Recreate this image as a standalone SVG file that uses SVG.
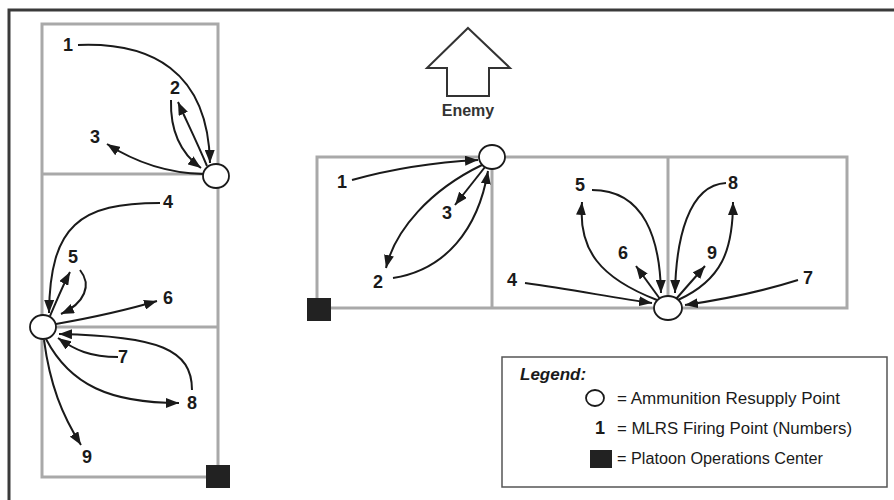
<svg xmlns="http://www.w3.org/2000/svg" width="894" height="500" viewBox="0 0 894 500">
<defs>
<marker id="ah" markerUnits="userSpaceOnUse" markerWidth="13" markerHeight="10" refX="13" refY="5" orient="auto">
<path d="M0,0 L13,5 L0,10 z" fill="#1a1a1a"/>
</marker>
</defs>
<style>
.area{fill:none;stroke:#a9a9a9;stroke-width:3}
.frame{fill:none;stroke:#3a3a3a;stroke-width:3}
.arp{fill:#fff;stroke:#1a1a1a;stroke-width:1.8}
.poc{fill:#222}
.num{font-family:"Liberation Sans",Arial,sans-serif;font-weight:bold;font-size:18px;fill:#1a1a1a;text-anchor:middle}
.con path{fill:none;stroke:#1a1a1a;stroke-width:2;marker-end:url(#ah)}
.leg{font-family:"Liberation Sans",Arial,sans-serif;font-size:16px;fill:#1a1a1a}
</style>
<rect width="894" height="500" fill="#fff"/>
<g id="frame">
<path class="frame" d="M9,500 L9,10 L894,10"/>
</g>
<g id="areas">
<rect class="area" x="42" y="24" width="176" height="453"/>
<line class="area" x1="42" y1="174" x2="218" y2="174"/>
<line class="area" x1="42" y1="327" x2="218" y2="327"/>
<rect class="area" x="317" y="157" width="530" height="151"/>
<line class="area" x1="492" y1="157" x2="492" y2="308"/>
<line class="area" x1="668" y1="157" x2="668" y2="308"/>
</g>
<g id="enemy">
<polygon points="468,28 510,68 489,68 489,96 447,96 447,68 427,68" fill="#fff" stroke="#333" stroke-width="2"/>
<text x="468" y="116" text-anchor="middle" font-family="Liberation Sans,Arial,sans-serif" font-weight="bold" font-size="16" fill="#333">Enemy</text>
</g>
<g id="connectors" class="con">
<path d="M78,45 C150,42 208,70 210,163"/>
<path d="M171,100 C170,135 183,155 201,168"/>
<path d="M207,166 C196,140 186,120 178,102"/>
<path d="M203,174 C165,173 135,162 107,144"/>
<path d="M160,203 C80,203 50,225 49,313"/>
<path d="M50,316 C57,300 63,285 70,272"/>
<path d="M80,270 C92,285 85,303 61,314"/>
<path d="M56,324 C90,318 120,312 157,301"/>
<path d="M118,357 C90,357 75,350 58,338"/>
<path d="M192,390 C192,350 160,336 59,334"/>
<path d="M46,339 C70,385 110,403 179,403"/>
<path d="M44,340 C50,385 62,415 81,445"/>
<path d="M352,180 C395,168 440,162 478,160"/>
<path d="M482,165 C430,190 395,230 386,268"/>
<path d="M393,278 C445,270 478,230 488,171"/>
<path d="M485,167 L455,205"/>
<path d="M525,283 C575,290 615,298 652,303"/>
<path d="M657,300 C600,278 578,250 582,202"/>
<path d="M592,190 C645,190 660,240 661,293"/>
<path d="M726,183 C688,185 676,240 675,293"/>
<path d="M678,300 C722,280 733,250 733,202"/>
<path d="M660,299 L636,266"/>
<path d="M676,299 L705,266"/>
<path d="M798,280 C760,292 720,300 685,305"/>
</g>
<g id="arp1"><ellipse class="arp" cx="216" cy="176" rx="13" ry="12"/></g>
<g id="arp2"><ellipse class="arp" cx="43" cy="327" rx="13" ry="12"/></g>
<g id="arp3"><ellipse class="arp" cx="492" cy="157" rx="13" ry="12"/></g>
<g id="arp4"><ellipse class="arp" cx="668" cy="308" rx="14" ry="12"/></g>
<g id="poc1"><rect class="poc" x="206" y="465" width="24" height="23"/></g>
<g id="poc2"><rect class="poc" x="307" y="298" width="24" height="23"/></g>
<g id="left-points">
<text class="num" x="68" y="51">1</text>
<text class="num" x="175" y="94">2</text>
<text class="num" x="95" y="143">3</text>
<text class="num" x="168" y="208">4</text>
<text class="num" x="73" y="263">5</text>
<text class="num" x="168" y="304">6</text>
<text class="num" x="123" y="363">7</text>
<text class="num" x="192" y="409">8</text>
<text class="num" x="87" y="463">9</text>
</g>
<g id="middle-points">
<text class="num" x="342" y="188">1</text>
<text class="num" x="378" y="288">2</text>
<text class="num" x="447" y="219">3</text>
</g>
<g id="right-points">
<text class="num" x="512" y="286">4</text>
<text class="num" x="580" y="191">5</text>
<text class="num" x="623" y="259">6</text>
<text class="num" x="808" y="284">7</text>
<text class="num" x="733" y="189">8</text>
<text class="num" x="712" y="259">9</text>
</g>
<g id="legend">
<rect x="502" y="357" width="385" height="130" fill="#fff" stroke="#555" stroke-width="1.5"/>
<text x="520" y="380" font-family="Liberation Sans,Arial,sans-serif" font-weight="bold" font-style="italic" font-size="17" fill="#1a1a1a">Legend:</text>
<ellipse class="arp" cx="595" cy="398" rx="9" ry="8"/>
<text class="leg" x="617" y="404" textLength="223" lengthAdjust="spacingAndGlyphs">= Ammunition Resupply Point</text>
<text class="num" x="600" y="434">1</text>
<text class="leg" x="617" y="434" textLength="235" lengthAdjust="spacingAndGlyphs">= MLRS Firing Point (Numbers)</text>
<rect class="poc" x="590" y="450" width="22" height="18"/>
<text class="leg" x="617" y="464" textLength="206" lengthAdjust="spacingAndGlyphs">= Platoon Operations Center</text>
</g>
</svg>
